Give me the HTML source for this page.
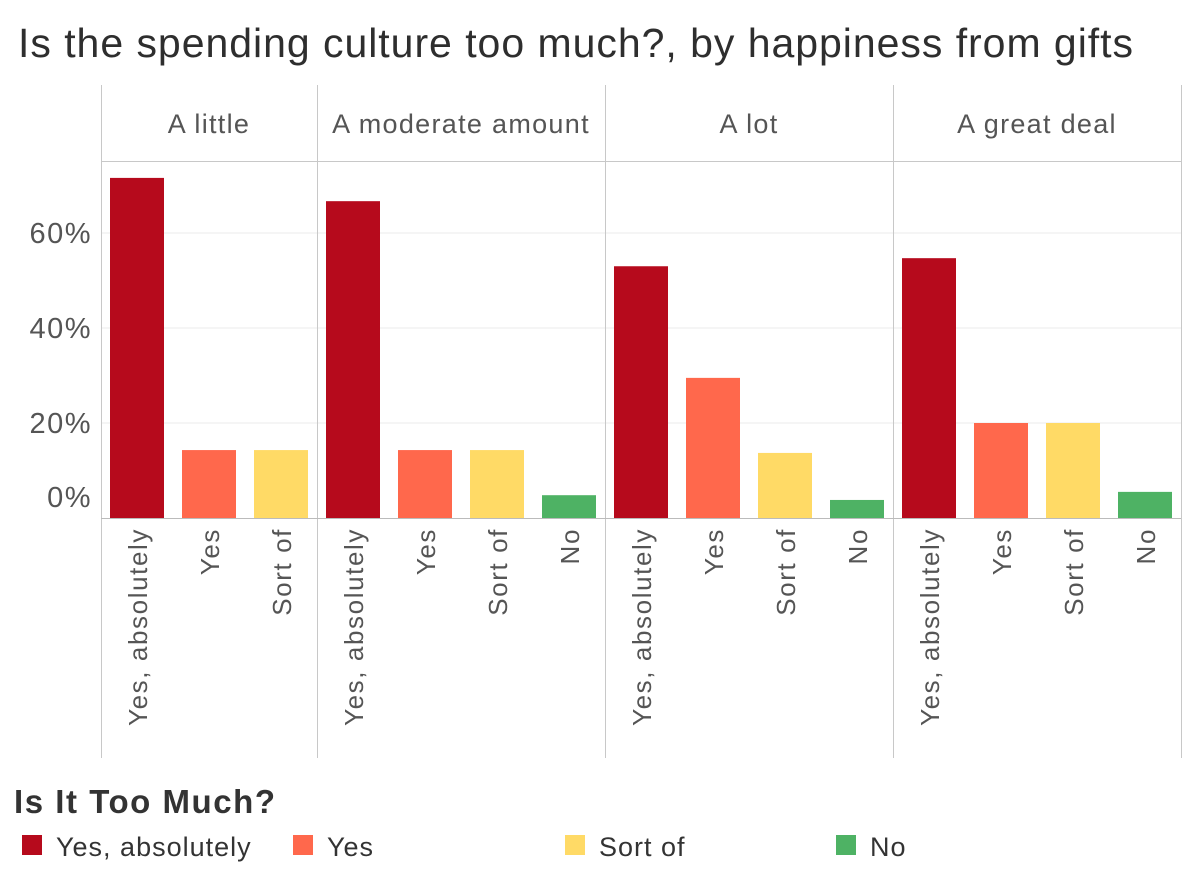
<!DOCTYPE html>
<html><head><meta charset="utf-8"><style>
body{margin:0;background:#fff;font-family:"Liberation Sans","DejaVu Sans",sans-serif;}
</style></head><body>
<svg width="1200" height="888" xmlns="http://www.w3.org/2000/svg">
<text x="18" y="57" font-size="41" fill="#2e2e2e" textLength="1115" lengthAdjust="spacing">Is the spending culture too much?, by happiness from gifts</text>
<g id="plot"></g>
<text x="14" y="813" font-size="33" font-weight="bold" fill="#333" textLength="261" lengthAdjust="spacing">Is It Too Much?</text>
<g id="legend"></g>
</svg>
<script>
const panels=["A little","A moderate amount","A lot","A great deal"];
const categories=["Yes, absolutely","Yes","Sort of","No"];
const colors=["#b60a1c","#ff684c","#ffda66","#4eb264"];
const values=[[71.6,14.3,14.3,null],[66.7,14.3,14.3,4.8],[53,29.5,13.7,3.8],[54.7,20,20,5.5]];
const yTicks=[0,20,40,60];
const yTickLabels=["0%","20%","40%","60%"];
const NS="http://www.w3.org/2000/svg";
const g=document.getElementById('plot');
function el(t,a,p){const e=document.createElementNS(NS,t);for(const k in a)e.setAttribute(k,a[k]);(p||g).appendChild(e);return e;}
const y0=518,pxPer=95/20,slot=72,bw=54,left=101;
function y(v){return y0-v*pxPer;}
yTicks.forEach((t,i)=>{
 if(t>0){const l=el('line',{x1:101,x2:1181,y1:y(t),y2:y(t),stroke:'#ebebeb'});
 
 }
 const tx=el('text',{x:92,y:(t===0?y(t)-11:y(t)+10),'font-size':29,fill:'#555','text-anchor':'end','letter-spacing':1.5});
 
 
 tx.textContent=yTickLabels[i];
});
let x=left;
const borders=[x];
panels.forEach((p,pi)=>{
 const n=values[pi].filter(v=>v!==null).length;
 const w=n*slot;
 const h=el('text',{x:x+w/2,y:133,'font-size':27,fill:'#555','text-anchor':'middle','letter-spacing':1.3});
 
 
 h.textContent=p;
 values[pi].forEach((v,ci)=>{
  if(v===null)return;
  const bx=x+ci*slot+9;
  const r=el('rect',{x:bx,y:y(v),width:bw,height:y0-y(v),fill:colors[ci]});
  
  
  const cx=bx+bw/2+10;
  const t=el('text',{x:0,y:0,'font-size':26,fill:'#555','text-anchor':'end','letter-spacing':1.6,transform:`translate(${cx},528) rotate(-90)`});
  
  
  t.textContent=categories[ci];
 });
 x+=w;borders.push(x);
});
borders.forEach(b=>{const l=el('line',{x1:b+0.5,x2:b+0.5,y1:85,y2:758,stroke:'#c8c8c8'});
 
 });
const hl=el('line',{x1:101,x2:1181,y1:161.5,y2:161.5,stroke:'#c8c8c8'});


const bl=el('line',{x1:101,x2:1181,y1:y0+0.5,y2:y0+0.5,stroke:'#bbb'});


const lg=document.getElementById('legend');
const lx=[22,293,565,836];
categories.forEach((c,i)=>{
 const r=el('rect',{x:lx[i],y:835,width:20,height:20,fill:colors[i]},lg);
 
 
 const t=el('text',{x:lx[i]+34,y:856,'font-size':27,fill:'#333','letter-spacing':1},lg);
 
 
 t.textContent=c;
});
</script>
</body></html>
